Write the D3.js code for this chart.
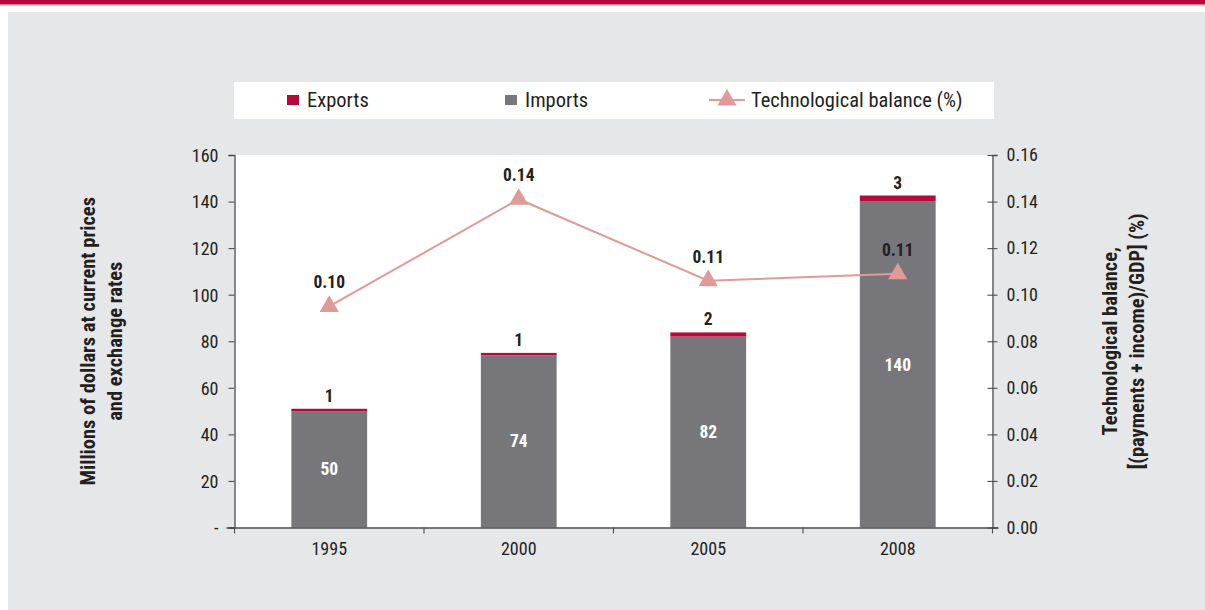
<!DOCTYPE html>
<html>
<head>
<meta charset="utf-8">
<script src="https://cdn.jsdelivr.net/npm/d3@7"></script>
<style>
  html, body { margin: 0; padding: 0; background: #ffffff; }
  svg { display: block; }
</style>
</head>
<body>
<div id="chart"></div>
<script>
const years = ['1995', '2000', '2005', '2008']
const imports = [50, 74, 82, 140]
const exports = [1, 1, 1.8, 2.6]
const techBalance = [0.095, 0.141, 0.106, 0.109]
const leftTicks = [0, 20, 40, 60, 80, 100, 120, 140, 160]
const rightTicks = [0, 0.02, 0.04, 0.06, 0.08, 0.10, 0.12, 0.14, 0.16]

const W = 1205, H = 610
const FONT = "'Liberation Sans Narrow', 'Arial Narrow', 'Roboto Condensed', 'Liberation Sans', sans-serif"
const RED = '#b50a3b'
const GRAY = '#77777b'
const PINK = '#e09a98'
const TEXT = '#231f20'

const plot = { left: 234.5, right: 992.5, top: 155, bottom: 527.5 }

const svg = d3.select('#chart').append('svg')
  .attr('width', W).attr('height', H)
  .style('font-family', FONT)

// page furniture: red banner + grey panel
svg.append('rect').attr('x', 0).attr('y', 0).attr('width', W).attr('height', 4).attr('fill', RED)
svg.append('rect').attr('x', 0).attr('y', 4).attr('width', W).attr('height', 1.5).attr('fill', '#e07a95')
svg.append('rect').attr('x', 8).attr('y', 12).attr('width', W - 8).attr('height', H - 12).attr('fill', '#e6e7e9')

// plot background
svg.append('rect')
  .attr('x', plot.left).attr('y', plot.top)
  .attr('width', plot.right - plot.left).attr('height', plot.bottom - plot.top)
  .attr('fill', '#ffffff')

const x = d3.scaleBand().domain(years).range([plot.left, plot.right]).paddingInner(0).paddingOuter(0)
const barW = x.bandwidth() * 0.4
const yL = d3.scaleLinear().domain([0, 160]).range([plot.bottom, plot.top])
const yR = d3.scaleLinear().domain([0, 0.16]).range([plot.bottom, plot.top])

// bars
const bars = svg.append('g')
years.forEach((yr, i) => {
  const cx = x(yr) + x.bandwidth() / 2
  bars.append('rect')
    .attr('x', cx - barW / 2).attr('width', barW)
    .attr('y', yL(imports[i])).attr('height', yL(0) - yL(imports[i]))
    .attr('fill', GRAY)
  bars.append('rect')
    .attr('x', cx - barW / 2).attr('width', barW)
    .attr('y', yL(imports[i] + exports[i])).attr('height', yL(imports[i]) - yL(imports[i] + exports[i]))
    .attr('fill', RED)
  bars.append('text')
    .attr('x', cx).attr('y', (yL(imports[i]) + yL(0)) / 2)
    .attr('text-anchor', 'middle').attr('dominant-baseline', 'central')
    .attr('fill', '#ffffff').attr('font-weight', 'bold').attr('font-size', 17.5)
    .text(d3.format('.0f')(imports[i]))
  bars.append('text')
    .attr('x', cx).attr('y', yL(imports[i] + exports[i]) - 7)
    .attr('text-anchor', 'middle')
    .attr('fill', TEXT).attr('font-weight', 'bold').attr('font-size', 17.5)
    .text(d3.format('.0f')(exports[i]))
})

// axes
const axisColor = '#4d4d4f'
const gL = svg.append('g').attr('transform', `translate(${plot.left},0)`)
  .call(d3.axisLeft(yL).tickValues(leftTicks).tickSize(6).tickPadding(10)
    .tickFormat(d => d === 0 ? '-' : d))
const gR = svg.append('g').attr('transform', `translate(${plot.right},0)`)
  .call(d3.axisRight(yR).tickValues(rightTicks).tickSize(5).tickPadding(9)
    .tickFormat(d3.format('.2f')))
gR.selectAll('.tick line').attr('x1', -5)
const gX = svg.append('g').attr('transform', `translate(0,${plot.bottom})`)
  .call(d3.axisBottom(x).tickSize(0).tickPadding(15))
// category boundary ticks on the x axis
gX.selectAll('.boundary')
  .data(years.map(yr => x(yr)).concat([x(years[years.length - 1]) + x.bandwidth()]))
  .enter().append('line')
  .attr('class', 'boundary')
  .attr('x1', d => d).attr('x2', d => d)
  .attr('y1', 0).attr('y2', 6)
gX.select('.domain').attr('d', `M${plot.left - 8},0.5H${plot.right + 6}`)

;[gL, gR, gX].forEach(g => {
  g.selectAll('.domain').attr('stroke', axisColor).attr('stroke-width', 1.3)
  g.selectAll('line').attr('stroke', axisColor).attr('stroke-width', 1.1)
  g.selectAll('text').attr('fill', TEXT).attr('font-size', 18).attr('font-family', FONT)
})
gL.selectAll('.tick text').attr('dy', '0.35em')

// line series on right axis
const pts = years.map((yr, i) => [x(yr) + x.bandwidth() / 2, yR(techBalance[i])])
svg.append('path')
  .attr('d', d3.line()(pts))
  .attr('fill', 'none').attr('stroke', PINK).attr('stroke-width', 2)
const tri = d3.symbol().type(d3.symbolTriangle).size(160)
svg.append('g').selectAll('path').data(pts).enter().append('path')
  .attr('d', tri)
  .attr('transform', d => `translate(${d[0]},${d[1]})`)
  .attr('fill', PINK)
svg.append('g').selectAll('text').data(techBalance).enter().append('text')
  .attr('x', (d, i) => pts[i][0]).attr('y', (d, i) => pts[i][1] - 18)
  .attr('text-anchor', 'middle')
  .attr('fill', TEXT).attr('font-weight', 'bold').attr('font-size', 17.5)
  .text(d => d3.format('.2f')(d))

// legend
const lg = svg.append('g')
lg.append('rect').attr('x', 234).attr('y', 82).attr('width', 760).attr('height', 37).attr('fill', '#ffffff')
lg.append('rect').attr('x', 287).attr('y', 95).attr('width', 12).attr('height', 10).attr('fill', RED)
lg.append('text').attr('x', 307).attr('y', 100).attr('dominant-baseline', 'central')
  .attr('font-size', 20.5).attr('fill', TEXT).text('Exports')
lg.append('rect').attr('x', 505).attr('y', 95).attr('width', 12).attr('height', 10).attr('fill', GRAY)
lg.append('text').attr('x', 525).attr('y', 100).attr('dominant-baseline', 'central')
  .attr('font-size', 20.5).attr('fill', TEXT).text('Imports')
lg.append('line').attr('x1', 709).attr('x2', 745).attr('y1', 100).attr('y2', 100)
  .attr('stroke', PINK).attr('stroke-width', 2)
lg.append('path').attr('d', tri).attr('transform', 'translate(727,100)').attr('fill', PINK)
lg.append('text').attr('x', 751).attr('y', 100).attr('dominant-baseline', 'central')
  .attr('font-size', 20.5).attr('fill', TEXT).text('Technological balance (%)')

// axis titles
const midY = (plot.top + plot.bottom) / 2
const leftTitle = svg.append('text')
  .attr('transform', `translate(95,${midY}) rotate(-90)`)
  .attr('text-anchor', 'middle').attr('font-weight', 'bold').attr('font-size', 20.5).attr('fill', TEXT)
leftTitle.append('tspan').attr('x', 0).attr('dy', 0).text('Millions of dollars at current prices')
leftTitle.append('tspan').attr('x', 0).attr('dy', 27).text('and exchange rates')

const rightTitle = svg.append('text')
  .attr('transform', `translate(1117,${midY}) rotate(-90)`)
  .attr('text-anchor', 'middle').attr('font-weight', 'bold').attr('font-size', 20.5).attr('fill', TEXT)
rightTitle.append('tspan').attr('x', 0).attr('dy', 0).text('Technological balance,')
rightTitle.append('tspan').attr('x', 0).attr('dy', 27).text('[(payments + income)/GDP] (%)')
</script>
</body>
</html>
